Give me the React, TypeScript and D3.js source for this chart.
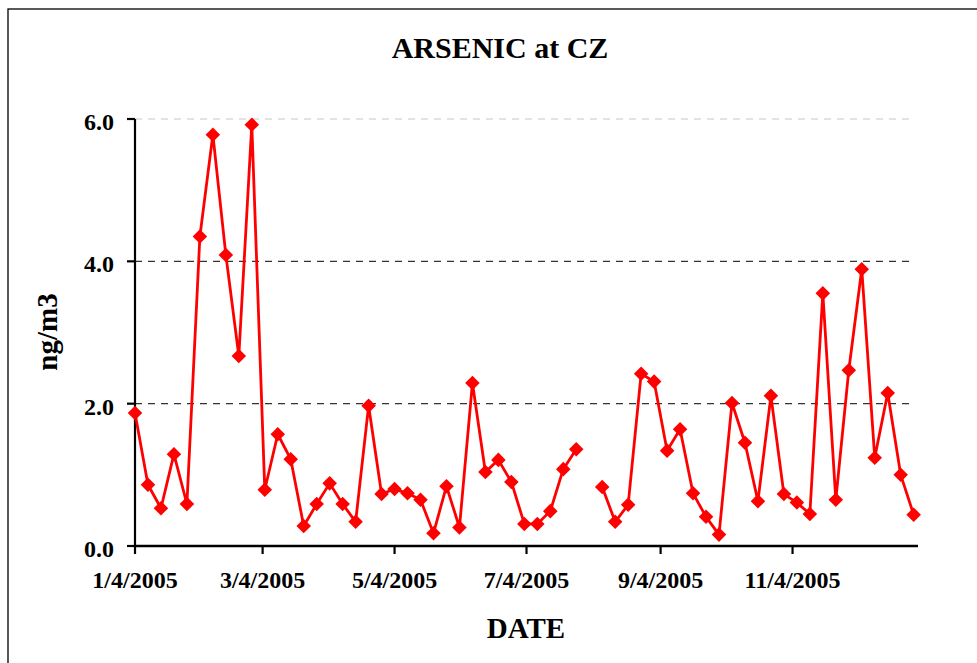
import React from "react";
import * as d3 from "d3";

const sampleDates: string[] = [
  "2005-01-04","2005-01-10","2005-01-16","2005-01-22","2005-01-28",
  "2005-02-03","2005-02-09","2005-02-15","2005-02-21","2005-02-27",
  "2005-03-05","2005-03-11","2005-03-17","2005-03-23","2005-03-29",
  "2005-04-04","2005-04-10","2005-04-16","2005-04-22","2005-04-28",
  "2005-05-04","2005-05-10","2005-05-16","2005-05-22","2005-05-28",
  "2005-06-03","2005-06-09","2005-06-15","2005-06-21","2005-06-27",
  "2005-07-03","2005-07-09","2005-07-15","2005-07-21","2005-07-27",
  "2005-08-02","2005-08-08","2005-08-14","2005-08-20","2005-08-26",
  "2005-09-01","2005-09-07","2005-09-13","2005-09-19","2005-09-25",
  "2005-10-01","2005-10-07","2005-10-13","2005-10-19","2005-10-25","2005-10-31",
  "2005-11-06","2005-11-12","2005-11-18","2005-11-24","2005-11-30",
  "2005-12-06","2005-12-12","2005-12-18","2005-12-24","2005-12-30",
];

const arsenic: (number | null)[] = [
  1.87, 0.86, 0.53, 1.29, 0.59,
  4.35, 5.78, 4.09, 2.67, 5.92,
  0.79, 1.57, 1.22, 0.28, 0.59,
  0.88, 0.59, 0.34, 1.97, 0.73,
  0.80, 0.74, 0.65, 0.18, 0.84,
  0.26, 2.29, 1.04, 1.21, 0.90,
  0.31, 0.31, 0.49, 1.08, 1.36,
  null, 0.83, 0.34, 0.58, 2.42,
  2.31, 1.34, 1.64, 0.74, 0.41,
  0.16, 2.01, 1.45, 0.63, 2.11, 0.73,
  0.61, 0.45, 3.55, 0.65, 2.47,
  3.89, 1.24, 2.15, 1.00, 0.44,
];

const xTickDates: string[] = ["2005-01-04","2005-03-04","2005-05-04","2005-07-04","2005-09-04","2005-11-04"];
const yTicks: number[] = [0, 2, 4, 6];
const xDomain: string[] = ["2005-01-04", "2006-01-01"];

const title = "ARSENIC at CZ";
const xTitle = "DATE";
const yTitle = "ng/m3";

const parse = d3.utcParse("%Y-%m-%d");
const fmtTick = (d: Date) => `${d.getUTCMonth() + 1}/${d.getUTCDate()}/${d.getUTCFullYear()}`;

export default function App() {
  const W = 977, H = 663;
  const left = 135, right = 918, top = 119, bottom = 546;
  const x = d3.scaleUtc().domain(xDomain.map((s) => parse(s) as Date)).range([left, right]);
  const y = d3.scaleLinear().domain([0, 6]).range([bottom, top]);

  const data = sampleDates.map((s, i) => ({ date: parse(s) as Date, v: arsenic[i] }));
  const line = d3
    .line<{ date: Date; v: number | null }>()
    .defined((d) => d.v !== null)
    .x((d) => x(d.date))
    .y((d) => y(d.v as number));
  const diamond = d3.symbol().type(d3.symbolDiamond2).size(135)();

  const font = "'Liberation Serif', 'Times New Roman', serif";

  return (
    <svg
      width={W}
      height={H}
      style={{ position: "absolute", left: 0, top: 0, background: "#fff" }}
      fontFamily={font}
      fontWeight="bold"
    >
      <rect x={0} y={0} width={W} height={H} fill="#fff" />
      <rect x={8} y={9} width={W + 20} height={H + 20} fill="none" stroke="#000" strokeWidth={1.3} />

      <text x={500} y={58} textAnchor="middle" fontSize={30}>{title}</text>

      {yTicks.filter((t) => t > 0).map((t) => (
        <line
          key={"g" + t}
          x1={left}
          x2={911}
          y1={y(t)}
          y2={y(t)}
          stroke={t === 6 ? "#c8c8c8" : "#333"}
          strokeWidth={1.2}
          strokeDasharray="7,6"
        />
      ))}

      <line x1={left} x2={left} y1={top} y2={bottom + 1} stroke="#000" strokeWidth={2.2} />
      {yTicks.map((t) => (
        <g key={"y" + t}>
          <line x1={left - 8} x2={left} y1={y(t)} y2={y(t)} stroke="#000" strokeWidth={2.2} />
          <text x={114} y={y(t) + 11} textAnchor="end" fontSize={24}>{t.toFixed(1)}</text>
        </g>
      ))}

      <line x1={left - 1} x2={right} y1={bottom} y2={bottom} stroke="#000" strokeWidth={2.5} />
      {xTickDates.map((s) => {
        const d = parse(s) as Date;
        return (
          <g key={s}>
            <line x1={x(d)} x2={x(d)} y1={bottom} y2={bottom + 8} stroke="#000" strokeWidth={2.2} />
            <text x={x(d)} y={588} textAnchor="middle" fontSize={24}>{fmtTick(d)}</text>
          </g>
        );
      })}

      <text x={526} y={638} textAnchor="middle" fontSize={29}>{xTitle}</text>
      <text transform={`translate(57,332) rotate(-90)`} textAnchor="middle" fontSize={29}>{yTitle}</text>

      <path d={line(data) || ""} fill="none" stroke="#ff0000" strokeWidth={2.8} strokeLinejoin="round" />
      {data.filter((d) => d.v !== null).map((d, i) => (
        <path key={i} d={diamond || ""} transform={`translate(${x(d.date)},${y(d.v as number)})`} fill="#ff0000" />
      ))}
    </svg>
  );
}
